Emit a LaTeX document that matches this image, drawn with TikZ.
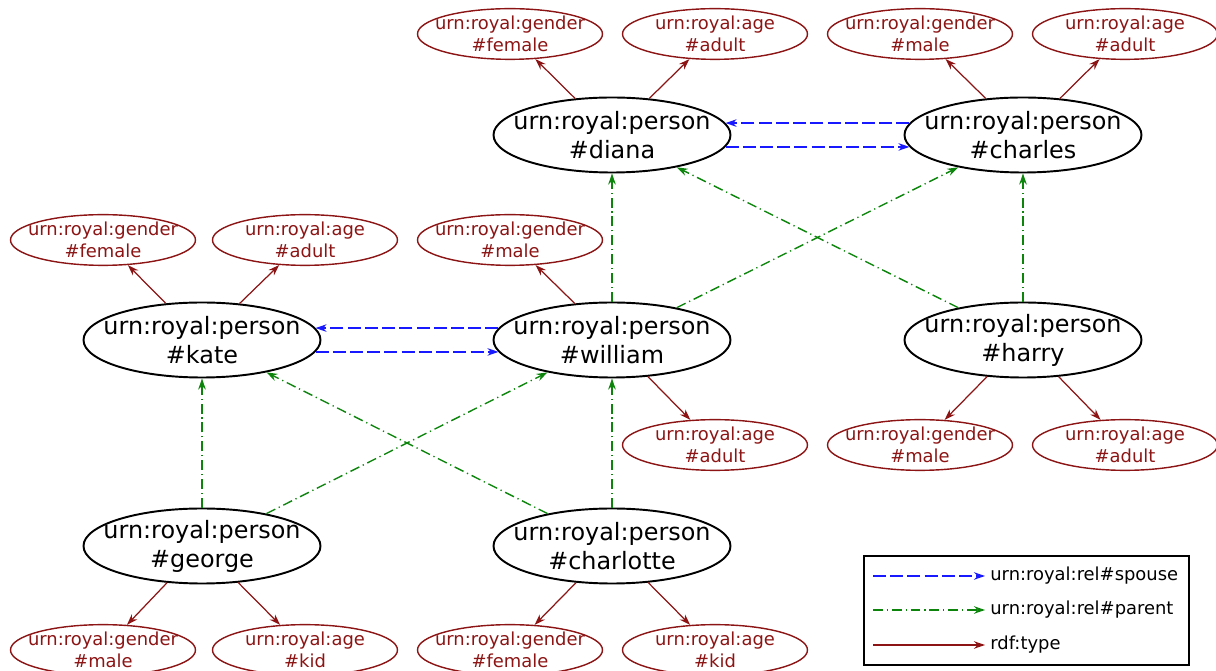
\documentclass[tikz,border=0pt]{standalone}
\usepackage{fontspec}
\setmainfont{DejaVu Sans}
\usetikzlibrary{shapes.geometric, arrows.meta}
\definecolor{typered}{rgb}{0.55,0.08,0.08}
\definecolor{spouseblue}{rgb}{0.1,0.1,1}
\definecolor{parentgreen}{rgb}{0.05,0.52,0.05}
\tikzset{ %node and edge looks
    person/.style={ellipse, draw, line width=1.1pt, inner xsep=-1cm, inner ysep=0pt, align=center,
        minimum width=4.74cm, minimum height=1.5cm, font=\fontsize{13.6}{16.5}\selectfont},
    attr/.style={ellipse, draw=typered, text=typered, line width=0.8pt, inner xsep=-1cm, inner ysep=0pt, align=center,
        minimum width=3.7cm, minimum height=1cm, font=\fontsize{10.2}{12.5}\selectfont},
    tip/.style={-{Stealth[length=2.2mm, width=1.5mm]}},
    type/.style={tip, color=typered, line width=0.7pt},
    spouse/.style={tip, color=spouseblue, line width=0.9pt, dash pattern=on 7.4pt off 2.4pt},
    parent/.style={tip, color=parentgreen, line width=0.8pt, dash pattern=on 5.6pt off 2.2pt on 0.7pt off 2.2pt},
}

\begin{document}
\begin{tikzpicture}
			\useasboundingbox (0,0) rectangle (24.32,13.42);
			% persons
			\node[person] (diana) at (12.24,10.72) {urn:royal:person\\\#diana};
			\node[person] (charles) at (20.46,10.72) {urn:royal:person\\\#charles};
			\node[person] (kate) at (4.04,6.62) {urn:royal:person\\\#kate};
			\node[person] (william) at (12.24,6.62) {urn:royal:person\\\#william};
			\node[person] (harry) at (20.46,6.62) {urn:royal:person\\\#harry};
			\node[person] (george) at (4.04,2.50) {urn:royal:person\\\#george};
			\node[person] (charlotte) at (12.24,2.50) {urn:royal:person\\\#charlotte};
			% attributes
			\node[attr] (dianag) at (10.20,12.74) {urn:royal:gender\\\#female};
			\node[attr] (dianaa) at (14.30,12.74) {urn:royal:age\\\#adult};
			\node[attr] (charlesg) at (18.40,12.74) {urn:royal:gender\\\#male};
			\node[attr] (charlesa) at (22.50,12.74) {urn:royal:age\\\#adult};
			\node[attr] (kateg) at (2.06,8.62) {urn:royal:gender\\\#female};
			\node[attr] (katea) at (6.10,8.62) {urn:royal:age\\\#adult};
			\node[attr] (williamg) at (10.20,8.62) {urn:royal:gender\\\#male};
			\node[attr] (williama) at (14.30,4.52) {urn:royal:age\\\#adult};
			\node[attr] (harryg) at (18.40,4.52) {urn:royal:gender\\\#male};
			\node[attr] (harrya) at (22.50,4.52) {urn:royal:age\\\#adult};
			\node[attr] (georgeg) at (2.06,0.42) {urn:royal:gender\\\#male};
			\node[attr] (georgea) at (6.10,0.42) {urn:royal:age\\\#kid};
			\node[attr] (charlotteg) at (10.20,0.42) {urn:royal:gender\\\#female};
			\node[attr] (charlottea) at (14.30,0.42) {urn:royal:age\\\#kid};
			% rdf:type
			\foreach \p in {diana,charles,kate,william,harry,george,charlotte}{
				\draw[type] (\p) -- (\p g);
				\draw[type] (\p) -- (\p a);
			}
			% spouse
			\draw[spouse] (charles.174) -- (diana.6);
			\draw[spouse] (diana.-6) -- (charles.186);
			\draw[spouse] (william.174) -- (kate.6);
			\draw[spouse] (kate.-6) -- (william.186);
			% parent
			\foreach \c/\p in {william/diana,william/charles,harry/diana,harry/charles,george/kate,george/william,charlotte/kate,charlotte/william}{
				\draw[parent] (\c) -- (\p);
			}
			% legend
			\node[draw, line width=0.6pt, minimum width=6.5cm, minimum height=2.18cm] (legend) at (20.53,1.21) {};
			\coordinate (ls1) at (17.46,1.90); \coordinate (le1) at (19.70,1.90);
			\coordinate (ls2) at (17.46,1.22); \coordinate (le2) at (19.70,1.22);
			\coordinate (ls3) at (17.46,0.52); \coordinate (le3) at (19.70,0.52);
			\draw[spouse] (ls1) -- (le1);
			\draw[parent] (ls2) -- (le2);
			\draw[type] (ls3) -- (le3);
			\node[anchor=west, inner sep=0pt, font=\fontsize{10.2}{12.5}\selectfont] (lt1) at (19.80,1.90) {urn:royal:rel\#spouse};
			\node[anchor=west, inner sep=0pt, font=\fontsize{10.2}{12.5}\selectfont] (lt2) at (19.80,1.22) {urn:royal:rel\#parent};
			\node[anchor=west, inner sep=0pt, font=\fontsize{10.2}{12.5}\selectfont] (lt3) at (19.80,0.52) {rdf:type};
		\end{tikzpicture}
\end{document}
